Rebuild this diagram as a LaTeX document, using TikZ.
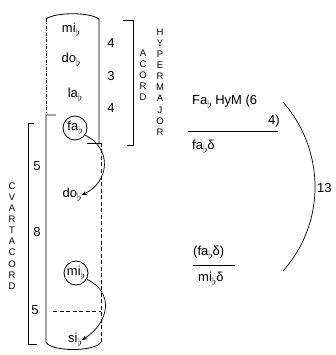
\documentclass[tikz,border=0pt]{standalone}
\usepackage{fontspec}
\setmainfont{Liberation Sans}
\usetikzlibrary{arrows.meta}
\newcommand{\fl}{\raisebox{-0.55ex}{\scalebox{0.95}{$\flat$}}}
\begin{document}
\begin{tikzpicture}[x=1pt,y=-1pt,
  lbl/.style={inner sep=0pt,font=\fontsize{13}{15}\selectfont},
  num/.style={inner sep=0pt,font=\fontsize{13}{15}\selectfont},
  vert/.style={inner sep=0pt,align=center,font=\fontsize{9.5}{11.1}\selectfont},
  txt/.style={inner sep=0pt,anchor=west,font=\fontsize{13}{15}\selectfont},
  ln/.style={line width=0.8pt},
  circ/.style={draw,circle,line width=0.8pt,minimum size=24pt,inner sep=0pt,font=\fontsize{13}{15}\selectfont},
  arr/.style={line width=0.7pt,-{Stealth[length=5pt,width=4pt]}}]
\useasboundingbox (0,0) rectangle (336,355);
% upper box
\coordinate (ua) at (46,19);
\coordinate (ub) at (99,19);
\coordinate (uc) at (99,143);
\coordinate (ud) at (46,113);
\draw[ln] (ua) .. controls (55,12) and (90,12) .. (ub) -- (uc);
\draw[ln,dash pattern=on 3pt off 1.5pt on 0.8pt off 1.5pt] (ua) -- (ud);
% lower box
\coordinate (la) at (56,115);
\coordinate (lb) at (46,115);
\coordinate (lc) at (46,342);
\coordinate (ld) at (101,342);
\coordinate (le) at (101,143);
\coordinate (lf) at (87,143);
\draw[ln] (la) -- (lb) -- (lc) .. controls (50,352) and (96,352) .. (ld);
\draw[ln] (lf) -- (le);
\draw[ln,dash pattern=on 4pt off 2.5pt] (le) -- (ld);
\coordinate (ha) at (53,311);
\coordinate (hb) at (101,311);
\draw[ln,dash pattern=on 4pt off 2.5pt] (ha) -- (hb);
% labels
\node[lbl] (mi1) at (71,30) {mi\fl};
\node[lbl] (do1) at (71,60) {do\fl};
\node[lbl] (la1) at (75,95) {la\fl};
\node[circ] (fa) at (75,128) {fa\fl};
\node[lbl] (do2) at (72,195) {do\fl};
\node[circ] (mi2) at (76,273) {mi\fl};
\node[lbl] (si) at (75,340) {si\fl};
\draw[arr] (fa.-35) .. controls (112,148) and (110,182) .. (do2.east);
\draw[arr] (mi2.-30) .. controls (114,292) and (110,322) .. (si.east);
% numbers
\node[num] (n1) at (111,43) {4};
\node[num] (n2) at (111,76) {3};
\node[num] (n3) at (111,108) {4};
\node[num] (n4) at (37,166) {5};
\node[num] (n5) at (37,232) {8};
\node[num] (n6) at (35,310) {5};
% brackets
\coordinate (ra) at (123,20);
\coordinate (rb) at (133,20);
\coordinate (rc) at (133,145);
\coordinate (rd) at (127,145);
\draw[ln] (ra) -- (rb) -- (rc) -- (rd);
\coordinate (qa) at (34,123);
\coordinate (qb) at (28,123);
\coordinate (qc) at (28,344);
\coordinate (qd) at (37,344);
\draw[ln] (qa) -- (qb) -- (qc) -- (qd);
% vertical words
\node[vert] (acord) at (143,75) {A\\C\\O\\R\\D};
\node[vert] (hyper) at (160,82) {H\\Y\\P\\E\\R\\M\\A\\J\\O\\R};
\node[vert] (cvart) at (12,236) {C\\V\\A\\R\\T\\A\\C\\O\\R\\D};
% right side
\node[txt] (t1) at (192,102) {Fa\fl{} HyM (6};
\node[txt] (t2) at (268,121) {4)};
\coordinate (l1a) at (188,131);
\coordinate (l1b) at (278,131);
\draw[line width=0.6pt] (l1a) -- (l1b);
\node[txt] (t3) at (192,147) {fa\fl δ};
\node[txt] (t4) at (193,253) {(fa\fl δ)};
\coordinate (l2a) at (193,265);
\coordinate (l2b) at (235,265);
\draw[line width=0.6pt] (l2a) -- (l2b);
\node[txt] (t5) at (198,279) {mi\fl δ};
\coordinate (aa) at (283,102);
\coordinate (ab) at (283,271);
\draw[line width=0.7pt] (aa) .. controls (325.7,150.7) and (325.7,223.3) .. (ab);
\node[txt] (t6) at (317,188) {13};
\end{tikzpicture}
\end{document}
